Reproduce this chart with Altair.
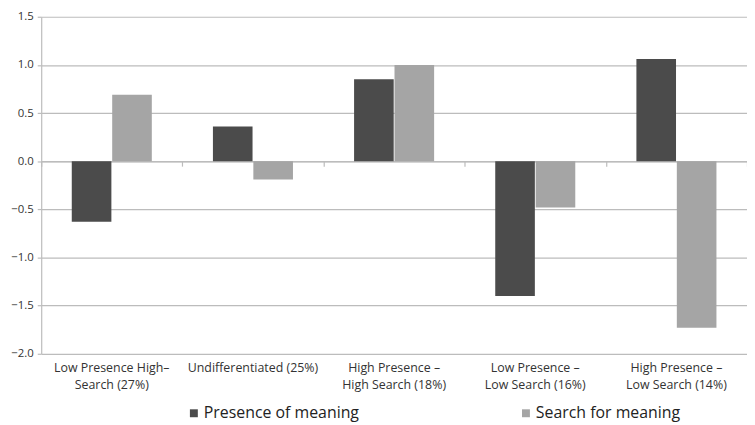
import altair as alt
import pandas as pd

categories = [
    "Low Presence High–\nSearch (27%)",
    "Undifferentiated (25%)",
    "High Presence –\nHigh Search (18%)",
    "Low Presence –\nLow Search (16%)",
    "High Presence –\nLow Search (14%)",
]
series = ["Presence of meaning", "Search for meaning"]
presence = [-0.63, 0.36, 0.85, -1.40, 1.06]
search = [0.69, -0.19, 1.00, -0.48, -1.73]
colors = ["#4b4b4b", "#a5a5a5"]
y_ticks = [-2.0, -1.5, -1.0, -0.5, 0.0, 0.5, 1.0, 1.5]

rows = []
for c, p, s in zip(categories, presence, search):
    rows.append({"category": c, "series": series[0], "value": p})
    rows.append({"category": c, "series": series[1], "value": s})
df = pd.DataFrame(rows)

FONT = "Open Sans"
GRID = "#bcbcbc"

yscale = alt.Scale(domain=[-2, 1.5], nice=False, zero=False)

bars = alt.Chart(df).mark_bar().encode(
    x=alt.X(
        "category:N",
        sort=categories,
        scale=alt.Scale(paddingInner=0.433, paddingOuter=0.2165),
        axis=alt.Axis(
            title=None,
            labelExpr="split(datum.value, '\\n')",
            ticks=False,
            domain=False,
            grid=False,
            labelAngle=0,
            labelFont=FONT,
            labelFontSize=12.5,
            labelColor="#333333",
            labelPadding=8,
            labelLineHeight=17,
        ),
    ),
    xOffset=alt.XOffset("series:N", sort=series, scale=alt.Scale(paddingInner=0.02)),
    y=alt.Y(
        "value:Q",
        scale=yscale,
        axis=alt.Axis(
            title=None,
            values=y_ticks,
            format=".1f",
            grid=True,
            gridColor=GRID,
            gridWidth=1.2,
            domainColor=GRID,
            domainWidth=1.2,
            tickColor=GRID,
            tickSize=4,
            tickWidth=1.2,
            labelPadding=4,
            labelFont=FONT,
            labelFontSize=11.5,
            labelColor="#333333",
        ),
    ),
    color=alt.Color(
        "series:N",
        sort=series,
        scale=alt.Scale(domain=series, range=colors),
        legend=alt.Legend(
            title=None,
            orient="none",
            legendX=146,
            legendY=392,
            direction="horizontal",
            symbolType="square",
            symbolSize=64,
            symbolStrokeWidth=0,
            labelFont=FONT,
            labelFontSize=16,
            labelColor="#222222",
            labelOffset=2,
            columnPadding=160,
        ),
    ),
)

ticks_layer = alt.Chart(df).mark_bar(opacity=0).encode(
    x=alt.X(
        "category:N",
        sort=categories,
        scale=alt.Scale(paddingInner=0, paddingOuter=0),
        axis=alt.Axis(
            orient="bottom",
            offset=-194.3,
            title=None,
            labels=False,
            grid=False,
            domainColor=GRID,
            domainWidth=1.2,
            tickColor=GRID,
            tickWidth=1.2,
            tickSize=5,
            tickBand="extent",
        ),
    ),
    y=alt.Y("value:Q", scale=yscale, axis=None),
)

chart = (
    alt.layer(bars, ticks_layer)
    .resolve_scale(x="independent")
    .resolve_axis(x="independent", y="independent")
    .properties(
        width=712,
        height=340,
        autosize=alt.AutoSizeParams(type="none"),
        padding={"left": 33.5, "top": 7, "right": 0, "bottom": 69},
    )
    .configure_view(stroke=None)
)

chart.save("out.html", embed_options={"renderer": "svg", "actions": False})
